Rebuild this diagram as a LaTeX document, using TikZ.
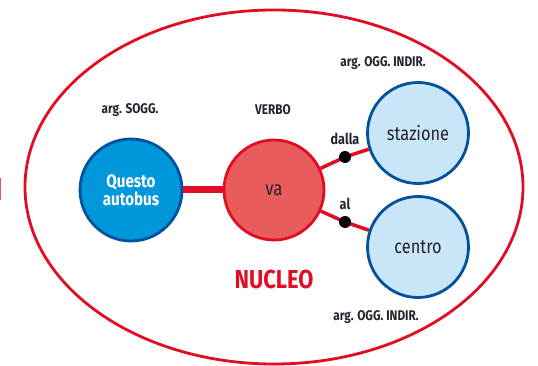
\documentclass[tikz,border=0pt]{standalone}
\usepackage{fontspec}
\setmainfont{Fira Sans}[FakeStretch=0.84]
\definecolor{nred}{RGB}{226,12,36}
\definecolor{vafill}{RGB}{232,92,92}
\definecolor{subjfill}{RGB}{0,152,218}
\definecolor{dblue}{RGB}{0,82,158}
\definecolor{lblue}{RGB}{200,230,248}
\definecolor{txt}{RGB}{40,35,45}
\tikzset{
  circ/.style={circle, minimum size=#1, inner sep=0pt, line width=2.8pt, align=center},
  subj/.style={circ=102pt, draw=dblue, fill=subjfill, text=white, font=\fontsize{18}{21}\selectfont\bfseries},
  verb/.style={circ=100pt, draw=nred, fill=vafill, text=txt, font=\fontsize{20}{22}\selectfont},
  obj/.style={circ=101pt, draw=dblue, fill=lblue, text=txt, font=\fontsize{19.5}{22}\selectfont},
  lab/.style={text=txt, font=\fontsize{14}{16}\selectfont\bfseries, inner sep=0pt},
  conn/.style={draw=nred, line width=3.5pt},
  dot/.style={circle, fill=black, minimum size=12pt, inner sep=0pt}
}
\begin{document}
\begin{tikzpicture}[x=1pt,y=-1pt]
\useasboundingbox (0,0) rectangle (538,366);
\fill[white] (0,0) rectangle (538,366);
% outer ellipse
\draw[nred, line width=2.8pt] (274,187) ellipse [x radius=249, y radius=177];
% edge mark at left
\draw[nred!70, line width=1.5pt] (0.6,178) -- (0.6,200);
% nodes
\node[subj] (q) at (131,190) {Questo\\[-3pt]autobus};
\node[verb] (va) at (274,190) {va};
\node[obj] (st) at (418,133) {stazione};
\node[obj] (ce) at (418,247) {centro};
% connectors
\draw[draw=nred, line width=7pt] (q) -- (va);
\coordinate (d1) at (345,157);
\coordinate (d2) at (345,222);
\draw[conn] (va) -- (d1) -- (st);
\draw[conn] (va) -- (d2) -- (ce);
\node[dot] (dd1) at (d1) {};
\node[dot] (dd2) at (d2) {};
% labels
\node[lab] (l1) at (130,110) {arg. SOGG.};
\node[lab] (l2) at (273,110) {VERBO};
\node[lab] (l3) at (383,63) {arg. OGG. INDIR.};
\node[lab] (l4) at (376,317) {arg. OGG. INDIR.};
\node[lab, font=\fontsize{15}{17}\selectfont\bfseries] (l5) at (345,139) {dalla};
\node[lab, font=\fontsize{15}{17}\selectfont\bfseries] (l6) at (345,204) {al};
\node[text=nred, font=\fontsize{26}{28}\selectfont\bfseries, inner sep=0pt] (nuc) at (274,279) {NUCLEO};
\end{tikzpicture}
\end{document}
